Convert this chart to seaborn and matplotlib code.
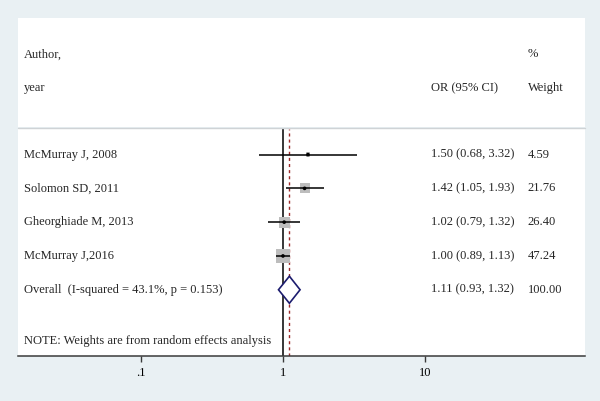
import numpy as np
import pandas as pd
import matplotlib
matplotlib.use("Agg")
import matplotlib.pyplot as plt
import matplotlib.transforms as mtransforms
import seaborn as sns
from matplotlib.lines import Line2D

# ---- data ----
studies = ["McMurray J, 2008", "Solomon SD, 2011", "Gheorghiade M, 2013", "McMurray J,2016"]
or_est = [1.50, 1.42, 1.02, 1.00]
ci_low = [0.68, 1.05, 0.79, 0.89]
ci_high = [3.32, 1.93, 1.32, 1.13]
weights = [4.59, 21.76, 26.40, 47.24]
or_text = ["1.50 (0.68, 3.32)", "1.42 (1.05, 1.93)", "1.02 (0.79, 1.32)", "1.00 (0.89, 1.13)"]
weight_text = ["4.59", "21.76", "26.40", "47.24"]

overall_label = "Overall  (I-squared = 43.1%, p = 0.153)"
overall_est = 1.11
overall_low = 0.93
overall_high = 1.32
overall_or_text = "1.11 (0.93, 1.32)"
overall_weight_text = "100.00"

note = "NOTE: Weights are from random effects analysis"
tick_vals = [0.1, 1, 10]
tick_labels = [".1", "1", "10"]

# ---- style ----
sns.set_theme(style="white")
plt.rcParams["font.family"] = ["Liberation Serif", "DejaVu Serif"]
FS = 9
BG = "#e9f0f3"

W, H = 600, 401
fig = plt.figure(figsize=(W / 100, H / 100), dpi=100, facecolor=BG)

def rect(x0, y0, x1, y1):
    return [x0 / W, 1 - y1 / H, (x1 - x0) / W, (y1 - y0) / H]

ax_h = fig.add_axes(rect(17.7, 18.3, 585, 127.3))
ax = fig.add_axes(rect(17.7, 128.8, 585, 356))
ax_h.set_facecolor("white")
ax_h.set_xticks([])
ax_h.set_yticks([])
for sp in ax_h.spines.values():
    sp.set_visible(False)
ax.set_facecolor("white")

# separator line
fig.add_artist(Line2D([17.7 / W, 585 / W], [1 - 128 / H, 1 - 128 / H],
                      color="#cfd3d6", lw=1.0))

# header
x_lab, x_or, x_w = 0.0111, 0.728, 0.899
for (xx, yy, t) in [(x_lab, 0.670, "Author,"), (x_lab, 0.359, "year"),
                    (x_or, 0.359, "OR (95% CI)"), (x_w, 0.670, "%"), (x_w, 0.359, "Weight")]:
    ax_h.text(xx, yy, t, transform=ax_h.transAxes, fontsize=FS, va="center", ha="left")

# main plot
ax.set_xscale("log")
ax.set_xlim(10 ** (-1.868), 10 ** 2.127)
ax.set_ylim(6.96, 0.238)

rows = np.arange(1, len(studies) + 1)
df = pd.DataFrame({"study": studies, "est": or_est, "lo": ci_low, "hi": ci_high,
                   "w": weights, "row": rows})

ax.axvline(1, color="black", lw=1.1, zorder=2)
ax.axvline(overall_est, color="#9e2a2a", lw=1.0, ls=(0, (2.2, 2.2)), zorder=2)

# weight squares (area proportional to weight)
k = 2.4
sns.scatterplot(data=df, x="est", y="row", size="w", sizes=(min(weights) * k, max(weights) * k),
                size_norm=(min(weights), max(weights)), marker="s", color="#bdbdbd",
                edgecolor="none", linewidth=0, legend=False, ax=ax, zorder=3)
# CI lines
ax.hlines(df["row"], df["lo"], df["hi"], color="black", lw=1.1, zorder=4)
# point estimates
sns.scatterplot(data=df, x="est", y="row", marker="o", s=7, color="black",
                edgecolor="none", legend=False, ax=ax, zorder=5)

# overall diamond
orow = len(studies) + 1
hh = 0.40
ax.fill([overall_low, overall_est, overall_high, overall_est],
        [orow, orow - hh, orow, orow + hh], facecolor="white",
        edgecolor="#1c1c6e", lw=1.2, zorder=6)

# text columns
bt = mtransforms.blended_transform_factory(ax.transAxes, ax.transData)
for r, s_, o_, w_ in zip(rows, studies, or_text, weight_text):
    ax.text(x_lab, r, s_, transform=bt, fontsize=FS, va="center", ha="left")
    ax.text(x_or, r, o_, transform=bt, fontsize=FS, va="center", ha="left")
    ax.text(x_w, r, w_, transform=bt, fontsize=FS, va="center", ha="left")

ax.text(x_lab, orow, overall_label, transform=bt, fontsize=FS, va="center", ha="left")
ax.text(x_or, orow, overall_or_text, transform=bt, fontsize=FS, va="center", ha="left")
ax.text(x_w, orow, overall_weight_text, transform=bt, fontsize=FS, va="center", ha="left")
ax.text(x_lab, 6.51, note, transform=bt, fontsize=FS, va="center", ha="left")

# axes styling
for sp in ["top", "left", "right"]:
    ax.spines[sp].set_visible(False)
ax.spines["bottom"].set_color("#3a3a3a")
ax.spines["bottom"].set_linewidth(1.1)
ax.set_yticks([])
ax.set_xticks(tick_vals)
ax.set_xticklabels(tick_labels)
ax.xaxis.set_minor_locator(matplotlib.ticker.NullLocator())
ax.tick_params(axis="x", which="major", bottom=True, direction="out", length=4,
               width=1.0, color="#3a3a3a", pad=4, labelsize=FS, labelcolor="black")
ax.set_xlabel("")
ax.set_ylabel("")

fig.savefig("out.png", dpi=100, facecolor=BG)
